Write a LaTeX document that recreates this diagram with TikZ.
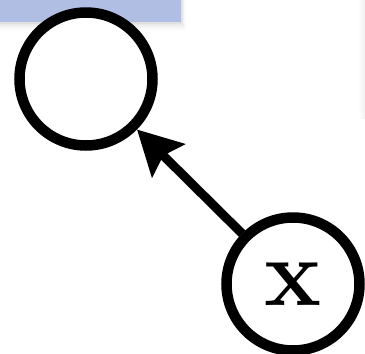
\documentclass[tikz,border=0pt]{standalone}
\usepackage{tikz}
\usetikzlibrary{arrows.meta,positioning}
\usepackage{xcolor}
\definecolor{bar}{HTML}{B1BEE3}
\definecolor{shd}{HTML}{9A9A9A}

\begin{document}
\begin{tikzpicture}[
  x=1pt, y=-1pt,
  >={Stealth[length=44pt,width=46pt,inset=7pt]},
  var/.style={draw=black, fill=white, circle, line width=10.5pt, minimum size=133pt, inner sep=0pt},
]
\useasboundingbox (0,0) rectangle (365,354);

% header strip with soft shadow
\foreach \d/\o in {9/0.03, 7/0.05, 5/0.07, 3/0.09, 1.5/0.10}
  \fill[shd, opacity=\o] (0,0) rectangle (181+\d*0.6, 22+\d);
\fill[bar] (0,0) rectangle (181,22);

% faint edge on the right
\shade[left color=white, right color=black!7, opacity=0.8] (358,0) rectangle (365,118);

\node[var] (h) at (86, 79) {};
\node[var, font=\fontsize{96}{96}\selectfont\bfseries] (x) at (293, 284) {x};

\draw[->, line width=9pt] (x) -- (h);

\end{tikzpicture}
\end{document}
